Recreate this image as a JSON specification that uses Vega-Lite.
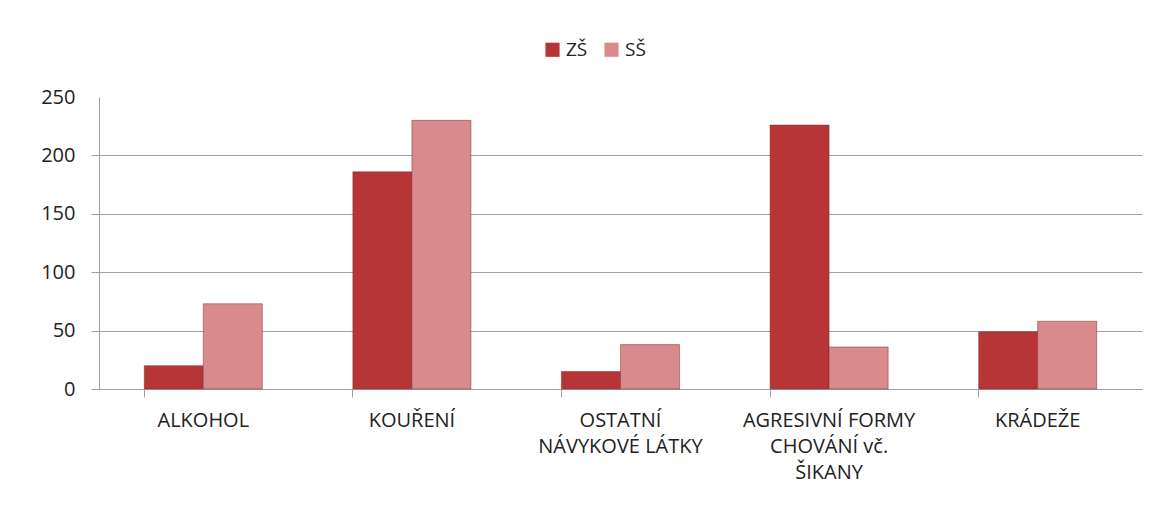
{
  "$schema": "https://vega.github.io/schema/vega-lite/v6.json",
  "width": 1043,
  "height": 292,
  "autosize": {"type": "none"},
  "padding": {"left": 99, "top": 97, "right": 16, "bottom": 131},
  "background": "white",
  "config": {
    "view": {"stroke": null},
    "font": "Open Sans"
  },
  "data": {
    "values": [
      {"kategorie": "ALKOHOL", "skola": "ZŠ", "pocet": 20},
      {"kategorie": "ALKOHOL", "skola": "SŠ", "pocet": 73},
      {"kategorie": "KOUŘENÍ", "skola": "ZŠ", "pocet": 186},
      {"kategorie": "KOUŘENÍ", "skola": "SŠ", "pocet": 230},
      {"kategorie": "OSTATNÍ NÁVYKOVÉ LÁTKY", "skola": "ZŠ", "pocet": 15},
      {"kategorie": "OSTATNÍ NÁVYKOVÉ LÁTKY", "skola": "SŠ", "pocet": 38},
      {"kategorie": "AGRESIVNÍ FORMY CHOVÁNÍ vč. ŠIKANY", "skola": "ZŠ", "pocet": 226},
      {"kategorie": "AGRESIVNÍ FORMY CHOVÁNÍ vč. ŠIKANY", "skola": "SŠ", "pocet": 36},
      {"kategorie": "KRÁDEŽE", "skola": "ZŠ", "pocet": 49},
      {"kategorie": "KRÁDEŽE", "skola": "SŠ", "pocet": 58}
    ]
  },
  "mark": {"type": "bar", "stroke": "#7a2a2b", "strokeWidth": 0.8, "strokeOpacity": 0.6},
  "encoding": {
    "x": {
      "field": "kategorie",
      "type": "nominal",
      "sort": null,
      "title": null,
      "scale": {"paddingInner": 0.434, "paddingOuter": 0.217},
      "axis": {
        "labelAngle": 0,
        "labelFontSize": 20,
        "labelColor": "#222222",
        "labelBaseline": "top",
        "labelPadding": 13,
        "labelLineHeight": 26,
        "labelLimit": 300,
        "bandPosition": 0,
        "tickSize": 8,
        "tickColor": "#a0a0a0",
        "domainColor": "#a0a0a0",
        "labelExpr": "datum.label == 'OSTATNÍ NÁVYKOVÉ LÁTKY' ? ['OSTATNÍ', 'NÁVYKOVÉ LÁTKY'] : datum.label == 'AGRESIVNÍ FORMY CHOVÁNÍ vč. ŠIKANY' ? ['AGRESIVNÍ FORMY', 'CHOVÁNÍ vč.', 'ŠIKANY'] : datum.label"
      }
    },
    "xOffset": {"field": "skola", "type": "nominal", "sort": ["ZŠ", "SŠ"], "scale": {"paddingInner": 0, "paddingOuter": 0}},
    "y": {
      "field": "pocet",
      "type": "quantitative",
      "title": null,
      "scale": {"domain": [0, 250], "nice": false},
      "axis": {
        "values": [0, 50, 100, 150, 200, 250],
        "labelFontSize": 20,
        "labelColor": "#222222",
        "labelPadding": 16,
        "tickSize": 8,
        "tickColor": {"condition": {"test": "datum.value == 250", "value": "transparent"}, "value": "#a0a0a0"},
        "gridColor": {"condition": {"test": "datum.value == 250", "value": "transparent"}, "value": "#a0a0a0"},
        "domainColor": "#a0a0a0"
      }
    },
    "color": {
      "field": "skola",
      "type": "nominal",
      "sort": ["ZŠ", "SŠ"],
      "title": null,
      "scale": {"domain": ["ZŠ", "SŠ"], "range": ["#b83537", "#d98a8c"]},
      "legend": {
        "orient": "none",
        "direction": "horizontal",
        "legendX": 444,
        "legendY": -57,
        "symbolType": "square",
        "symbolSize": 200,
        "symbolStrokeWidth": 0,
        "labelFontSize": 19,
        "labelColor": "#222222",
        "labelOffset": 4,
        "columnPadding": 14
      }
    }
  }
}
